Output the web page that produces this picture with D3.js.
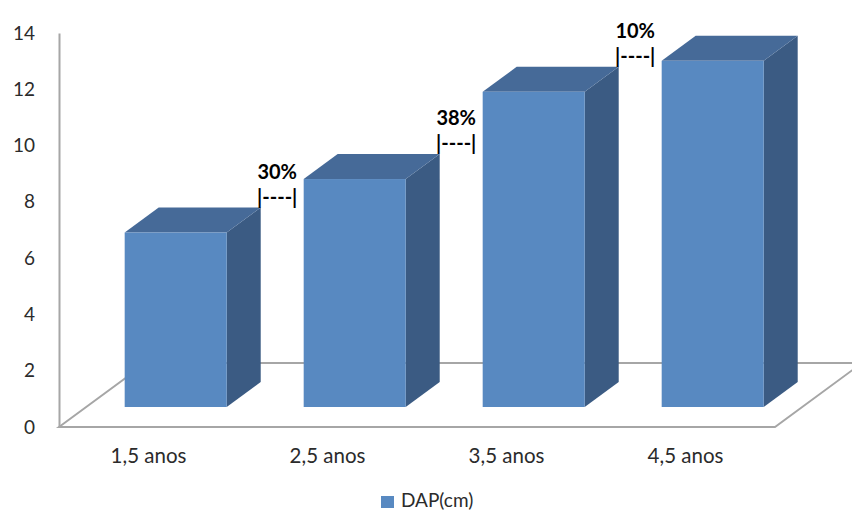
<!DOCTYPE html>
<html>
<head>
<meta charset="utf-8">
<script src="https://cdn.jsdelivr.net/npm/d3@7"></script>
<style>
  html, body { margin: 0; padding: 0; background: #fff; }
  svg { display: block; font-family: Lato, "Open Sans", sans-serif; }
</style>
</head>
<body>
<svg id="chart" width="852" height="512"></svg>
<script>
// DAP (diâmetro à altura do peito) por idade
const categories = ["1,5 anos", "2,5 anos", "3,5 anos", "4,5 anos"];
const dapValues = [6.2, 8.1, 11.2, 12.3];
const growthLabels = ["30%", "38%", "10%"];
const yTicks = [0, 2, 4, 6, 8, 10, 12, 14];
const seriesName = "DAP(cm)";

const colors = {
  front: "#5889c1",
  top: "#466a98",
  side: "#3b5b83",
  floor: "#a6a6a6",
  text: "#2b2b2b"
};

const svg = d3.select("#chart");

// oblique projection: a depth step moves up by d and right by d * slant
const slant = 1.36;
const floorDepth = 64;
const barFront = 20;
const barDepth = 25;
const off = d => [d * slant, -d];

const y = d3.scaleLinear().domain([0, 14]).range([427, 33]);
const x = d3.scaleBand().domain(categories).range([59, 775]);
const barW = x.bandwidth() * 0.57;

// floor parallelogram
const x0 = x.range()[0], x1 = x.range()[1], yb = y(0);
const [fdx, fdy] = off(floorDepth);
const floor = svg.append("g")
  .attr("fill", "none")
  .attr("stroke", colors.floor)
  .attr("stroke-width", 2);
floor.append("path")
  .attr("d", `M${x0},${yb} L${x0 + fdx},${yb + fdy} L${x1 + fdx},${yb + fdy} L${x1},${yb} Z`)
  .attr("fill", "#fff");

// value axis
const axis = svg.append("g")
  .attr("transform", `translate(${x0},0)`)
  .call(d3.axisLeft(y).tickValues(yTicks).tickSize(0).tickSizeOuter(0).tickPadding(24));
axis.select(".domain").attr("stroke", colors.floor).attr("stroke-width", 2);
axis.selectAll("text")
  .attr("fill", colors.text)
  .attr("font-size", 19)
  .attr("font-family", "Lato, 'Open Sans', sans-serif");

// 3D columns
const data = categories.map((c, i) => ({ c, v: dapValues[i] }));
const [bfx, bfy] = off(barFront);
const [bdx, bdy] = off(barDepth);
const bars = svg.append("g").selectAll("g").data(data).join("g");
bars.each(function (d) {
  const g = d3.select(this);
  const left = x(d.c) + (x.bandwidth() - barW) / 2 + bfx;
  const right = left + barW;
  const base = y(0) + bfy;
  const top = y(d.v) + bfy;
  // side
  g.append("path")
    .attr("d", `M${right},${base} L${right + bdx},${base + bdy} L${right + bdx},${top + bdy} L${right},${top} Z`)
    .attr("fill", colors.side);
  // top
  g.append("path")
    .attr("d", `M${left},${top} L${left + bdx},${top + bdy} L${right + bdx},${top + bdy} L${right},${top} Z`)
    .attr("fill", colors.top);
  // front
  g.append("rect")
    .attr("x", left).attr("y", top)
    .attr("width", barW).attr("height", base - top)
    .attr("fill", colors.front);
});

// category labels along the front edge of the floor
svg.append("g").selectAll("text").data(categories).join("text")
  .attr("x", d => x(d) + x.bandwidth() / 2)
  .attr("y", 463)
  .attr("text-anchor", "middle")
  .attr("font-size", 20.5)
  .attr("fill", colors.text)
  .text(d => d);

// growth between consecutive ages, set in the gap before the next column
const notes = svg.append("g")
  .attr("font-weight", "bold")
  .attr("font-size", 20)
  .attr("fill", "#000")
  .attr("text-anchor", "middle");
growthLabels.forEach((label, i) => {
  const prevRight = x(categories[i]) + (x.bandwidth() - barW) / 2 + bfx + barW + bdx;
  const nextLeft = x(categories[i + 1]) + (x.bandwidth() - barW) / 2 + bfx;
  const cx = (prevRight + nextLeft) / 2 - 5;
  const by = y(dapValues[i]) + bfy + bdy - 4;
  notes.append("text").attr("x", cx).attr("y", by - 25).text(label);
  notes.append("text").attr("x", cx).attr("y", by).text("|----|");
});

// legend
const legend = svg.append("g").attr("transform", "translate(381,496)");
legend.append("rect").attr("width", 13).attr("height", 12).attr("fill", colors.front);
legend.append("text")
  .attr("x", 20).attr("y", 11)
  .attr("font-size", 19)
  .attr("fill", colors.text)
  .text(seriesName);
</script>
</body>
</html>
